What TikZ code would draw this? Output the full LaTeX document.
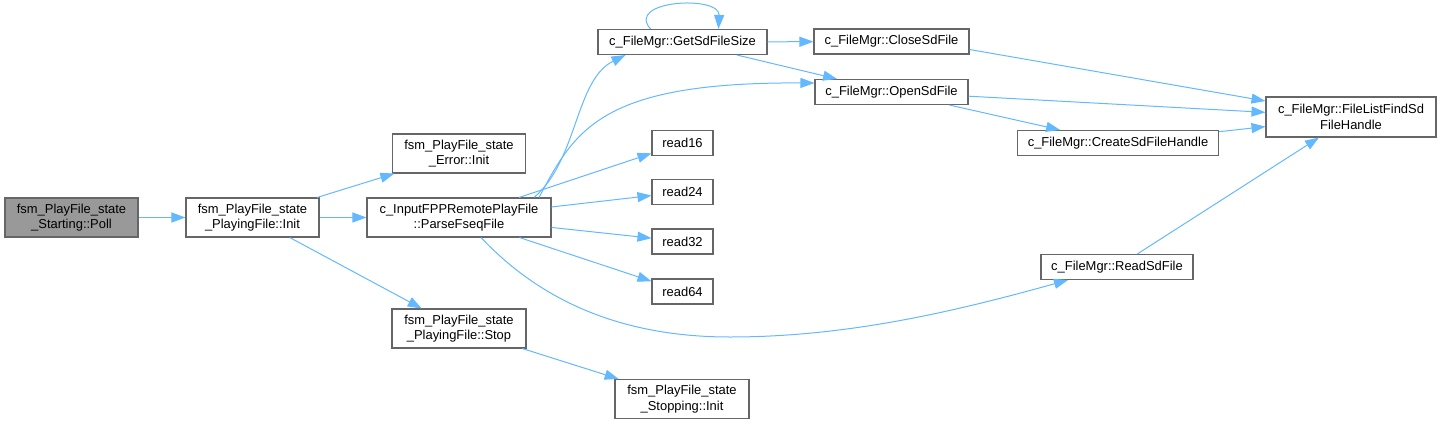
\documentclass[tikz,border=0pt]{standalone}
\usepackage{fontspec}
\setmainfont{Liberation Sans}
\usepackage{xcolor}
\usetikzlibrary{arrows.meta, calc}
\definecolor{edgeblue}{HTML}{63B8FF}
\definecolor{boxgray}{HTML}{666666}
\definecolor{rootgray}{HTML}{999999}

\begin{document}
\begin{tikzpicture}[x=0.75pt, y=-0.75pt,
  >={Triangle[length=10.5pt, width=7.5pt]},
  fn/.style={draw=boxgray, line width=0.8pt, fill=white, align=center,
    inner sep=0pt, font=\fontsize{9.7}{11.5}\selectfont},
  one/.style={fn, minimum height=18.75pt},
  two/.style={fn, minimum height=29.25pt},
  call/.style={->, edgeblue, line width=0.75pt}]

  % --- Riquadro ---
  \useasboundingbox (0,0) rectangle (1441,425);

  % --- Funzioni ---
  \node[two, fill=rootgray, minimum width=99.75pt] (poll) at (71.5,217.5)
    {fsm\_PlayFile\_state\\\_Starting::Poll};
  \node[two, minimum width=99.75pt] (init) at (252.5,217.5)
    {fsm\_PlayFile\_state\\\_PlayingFile::Init};
  \node[two, minimum width=99.75pt] (err) at (459,153.5)
    {fsm\_PlayFile\_state\\\_Error::Init};
  \node[two, minimum width=138pt] (parse) at (459,217.5)
    {c\_InputFPPRemotePlayFile\\::ParseFseqFile};
  \node[two, minimum width=100.5pt] (stop) at (459,328.5)
    {fsm\_PlayFile\_state\\\_PlayingFile::Stop};
  \node[two, minimum width=100.5pt] (stopping) at (682,399)
    {fsm\_PlayFile\_state\\\_Stopping::Init};
  \node[one, minimum width=126.75pt] (get) at (682.5,42) {c\_FileMgr::GetSdFileSize};
  \node[one, minimum width=45.75pt] (rd16) at (682.5,143) {read16};
  \node[one, minimum width=45.75pt] (rd24) at (682.5,192) {read24};
  \node[one, minimum width=45.75pt] (rd32) at (682.5,241.5) {read32};
  \node[one, minimum width=45.75pt] (rd64) at (682.5,291.5) {read64};
  \node[one, minimum width=116.25pt] (close) at (891.5,41.5) {c\_FileMgr::CloseSdFile};
  \node[one, minimum width=114.75pt] (open) at (891.5,92) {c\_FileMgr::OpenSdFile};
  \node[one, minimum width=150.75pt] (create) at (1118,143) {c\_FileMgr::CreateSdFileHandle};
  \node[one, minimum width=114pt] (readsd) at (1117,267) {c\_FileMgr::ReadSdFile};
  \node[fn, minimum width=127.5pt, minimum height=30pt] (find) at (1351,117)
    {c\_FileMgr::FileListFindSd\\FileHandle};

  % --- Chiamate dirette ---
  \draw[call] (poll) -- (init);
  \draw[call] (init) -- (err);
  \draw[call] (init) -- (parse);
  \draw[call] (init) -- (stop);
  \draw[call] (stop) -- (stopping);
  \draw[call] (parse) -- (rd16);
  \draw[call] (parse) -- (rd24);
  \draw[call] (parse) -- (rd32);
  \draw[call] (parse) -- (rd64);
  \draw[call] (get) -- (close);
  \draw[call] (get) -- (open);
  \draw[call] ($(close.east)+(0,8)$) -- ($(find.west)+(0,-16)$);
  \draw[call] (open) -- (find);
  \draw[call] (open) -- (create);
  \draw[call] (create) -- (find);
  \draw[call] (readsd) -- (find);

  % --- Chiamate curve ---
  \draw[call] ($(get.north)+(-32,0)$) .. controls (625,0) and (720,-5)
    .. ($(get.north)+(36,0)$);
  \draw[call] ($(parse.north)+(75,0)$) .. controls (578,160) and (575,80)
    .. ($(get.south)+(-57,0)$);
  \draw[call] ($(parse.north)+(80,0)$) .. controls (575,130) and (600,82)
    .. ($(open.west)+(0,-9)$);
  \draw[call] ($(parse.south)+(22,0)$) .. controls (540,300) and (620,337)
    .. (730,337) .. controls (850,337) and (960,310) .. ($(readsd.south)+(-49,0)$);

\end{tikzpicture}
\end{document}
